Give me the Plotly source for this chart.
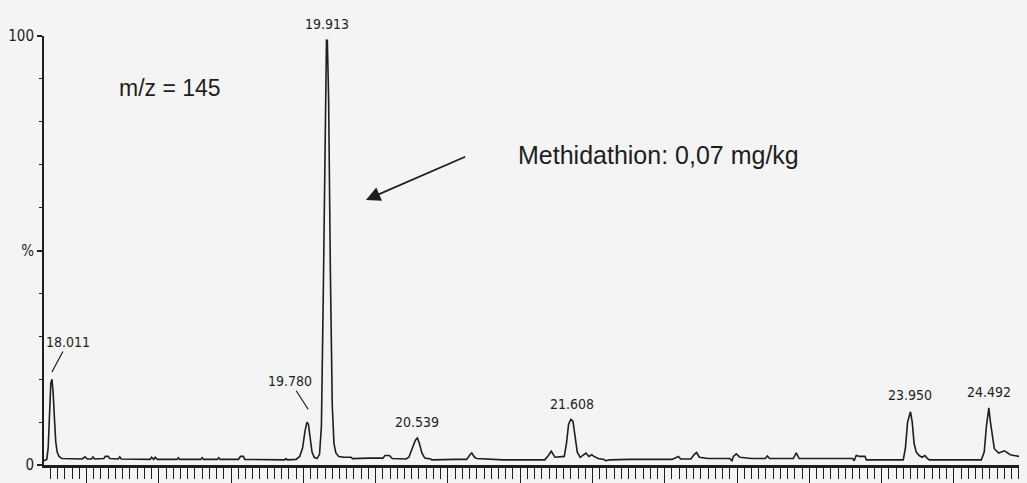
import plotly.graph_objects as go

# Retention time (min) and relative intensity (%) of the m/z 145 trace
rt = [17.956, 17.975, 17.985, 17.995, 18.003, 18.011, 18.019, 18.028, 18.037, 18.047,
      18.060, 18.080, 18.150, 18.220, 18.240, 18.255, 18.285, 18.295, 18.305, 18.370,
      18.380, 18.400, 18.410, 18.470, 18.480, 18.490, 18.690, 18.700, 18.715, 18.725,
      18.740, 18.875, 18.885, 18.895, 19.040, 19.050, 19.060, 19.155, 19.165, 19.175,
      19.300, 19.315, 19.335, 19.345, 19.620, 19.630, 19.640, 19.700, 19.725, 19.745,
      19.762, 19.775, 19.785, 19.797, 19.810, 19.825, 19.845, 19.862, 19.875, 19.888,
      19.900, 19.910, 19.916, 19.925, 19.937, 19.950, 19.962, 19.975, 19.995, 20.030,
      20.080, 20.090, 20.200, 20.300, 20.315, 20.345, 20.365, 20.460, 20.480, 20.500,
      20.525, 20.539, 20.553, 20.570, 20.590, 20.630, 20.640, 20.800, 20.880, 20.905,
      20.915, 20.935, 20.950, 21.130, 21.240, 21.420, 21.445, 21.465, 21.480, 21.490,
      21.555, 21.570, 21.585, 21.600, 21.615, 21.630, 21.645, 21.665, 21.690, 21.705,
      21.725, 21.745, 21.760, 21.790, 21.830, 21.840, 21.870, 22.000, 22.300, 22.325,
      22.345, 22.360, 22.430, 22.455, 22.470, 22.490, 22.550, 22.700, 22.715, 22.725,
      22.745, 22.770, 22.850, 22.945, 22.960, 22.975, 23.140, 23.160, 23.180, 23.550,
      23.560, 23.575, 23.600, 23.635, 23.645, 23.900, 23.915, 23.930, 23.950, 23.962,
      23.975, 23.990, 24.010, 24.030, 24.050, 24.065, 24.080, 24.440, 24.460, 24.475,
      24.492, 24.503, 24.518, 24.530, 24.560, 24.600, 24.640, 24.700, 24.730, 24.756]
intensity = [1.0, 1.3, 4.0, 13.0, 19.0, 20.0, 17.0, 11.0, 5.5, 3.0,
             2.0, 1.5, 1.4, 1.4, 1.9, 1.4, 1.4, 1.9, 1.4, 1.5,
             2.0, 2.0, 1.5, 1.4, 1.9, 1.4, 1.3, 1.8, 1.3, 1.8,
             1.3, 1.3, 1.7, 1.3, 1.3, 1.7, 1.3, 1.3, 1.7, 1.3,
             1.3, 2.0, 2.0, 1.3, 1.2, 1.5, 1.2, 1.3, 2.0, 4.0,
             8.0, 10.0, 9.5, 6.0, 3.0, 1.8, 1.5, 2.5, 9.0, 40.0,
             80.0, 99.0, 99.0, 85.0, 45.0, 14.0, 5.0, 2.8, 2.0, 1.8,
             1.8, 1.5, 1.6, 1.6, 2.2, 2.2, 1.5, 1.4, 1.8, 3.5,
             5.8, 6.3, 5.0, 2.8, 1.6, 1.4, 1.2, 1.3, 1.3, 2.5,
             2.8, 1.8, 1.5, 1.2, 1.2, 1.2, 2.2, 3.2, 2.4, 1.8,
             2.0, 5.0, 9.5, 10.6, 10.2, 7.0, 3.0, 1.8, 2.5, 2.8,
             2.0, 2.4, 2.0, 1.5, 1.3, 1.0, 1.2, 1.3, 1.3, 1.8,
             2.0, 1.4, 1.4, 2.5, 2.9, 1.8, 1.5, 1.5, 1.0, 2.0,
             2.6, 1.8, 1.5, 1.5, 2.1, 1.5, 1.5, 2.8, 1.5, 1.5,
             1.0, 2.2, 2.0, 2.0, 1.2, 1.2, 4.0, 10.0, 12.4, 10.0,
             5.0, 3.0, 2.2, 1.8, 2.2, 1.6, 1.2, 1.2, 3.0, 9.0,
             13.3, 10.0, 6.0, 3.8, 2.8, 3.3, 2.4, 2.0, 2.4, 2.2]

# Labelled peaks
peak_rt = [18.011, 19.780, 19.913, 20.539, 21.608, 23.950, 24.492]
peak_labels = ["18.011", "19.780", "19.913", "20.539", "21.608", "23.950", "24.492"]

x_major_ticks = [18.25, 18.75, 19.25, 19.75, 20.25, 20.75, 21.25, 21.75,
                 22.25, 22.75, 23.25, 23.75, 24.25, 24.75]
y_tick_vals = [0, 50, 100]
y_tick_text = ["0", "%", "100"]

ink = "#1e1e1e"
bg = "#f4f4f4"
narrow = "Liberation Sans Narrow, DejaVu Sans Condensed, Arial Narrow, sans-serif"
sans = "Liberation Sans, Arial, sans-serif"

fig = go.Figure()
fig.add_trace(go.Scatter(x=rt, y=intensity, mode="lines",
                         line=dict(color=ink, width=1.6), hoverinfo="skip",
                         showlegend=False))

label_y = [28.7, 19.6, 1.028, 10.0, 14.3, 16.3, 17.0]
lab_font = dict(family=narrow, size=14, color=ink)
annotations = []
for i, (t, txt) in enumerate(zip(peak_rt, peak_labels)):
    if txt == "18.011":
        annotations.append(dict(x=t, y=21.7, text=txt, showarrow=True, arrowhead=0,
                                arrowwidth=1.2, arrowcolor=ink, ax=16, ay=-30,
                                font=lab_font))
    elif txt == "19.780":
        annotations.append(dict(x=19.783, y=13.0, text=txt, showarrow=True, arrowhead=0,
                                arrowwidth=1.2, arrowcolor=ink, ax=-18, ay=-28,
                                font=lab_font))
    elif txt == "19.913":
        annotations.append(dict(x=t, y=label_y[i], yref="paper", yanchor="middle",
                                text=txt, showarrow=False, font=lab_font))
    else:
        annotations.append(dict(x=t, y=label_y[i], text=txt, showarrow=False,
                                font=lab_font))

annotations.append(dict(x=18.459, y=87.9, text="m/z = 145", showarrow=False,
                        xanchor="left", font=dict(family=sans, size=23, color=ink)))
annotations.append(dict(x=21.218, y=72.3, text="Methidathion: 0,07 mg/kg", showarrow=False,
                        xanchor="left", font=dict(family=sans, size=25, color=ink)))
annotations.append(dict(x=20.183, y=61.8, ax=20.880, ay=72.0, axref="x", ayref="y",
                        text="", showarrow=True, arrowhead=2, arrowsize=1.6,
                        arrowwidth=1.8, arrowcolor=ink))

# the page body adds an 8 px offset, so the figure is sized to fit the window
fig.update_layout(
    width=1019, height=475,
    margin=dict(l=31, r=0, t=28, b=18),
    paper_bgcolor=bg, plot_bgcolor=bg,
    annotations=annotations,
    xaxis=dict(range=[17.956, 24.756], showgrid=False, zeroline=False,
               showline=True, linewidth=3, linecolor=ink,
               tickvals=x_major_ticks, ticks="outside", ticklen=18, tickwidth=1.3,
               tickcolor=ink, showticklabels=False,
               minor=dict(ticks="outside", ticklen=11, tickwidth=1.2, tickcolor=ink,
                          dtick=0.05, tick0=18.0)),
    yaxis=dict(range=[0, 100], showgrid=False, zeroline=False,
               showline=True, linewidth=2, linecolor=ink,
               tickvals=y_tick_vals, ticktext=y_tick_text, ticks="outside",
               ticklen=5, tickwidth=1.5, tickcolor=ink,
               tickfont=dict(family=narrow, size=15, color=ink),
               minor=dict(ticks="outside", ticklen=3, tickwidth=1.2, tickcolor=ink,
                          dtick=10, tick0=0)),
)

fig.write_html("out.html", post_script="document.body.style.background='%s';" % bg)
